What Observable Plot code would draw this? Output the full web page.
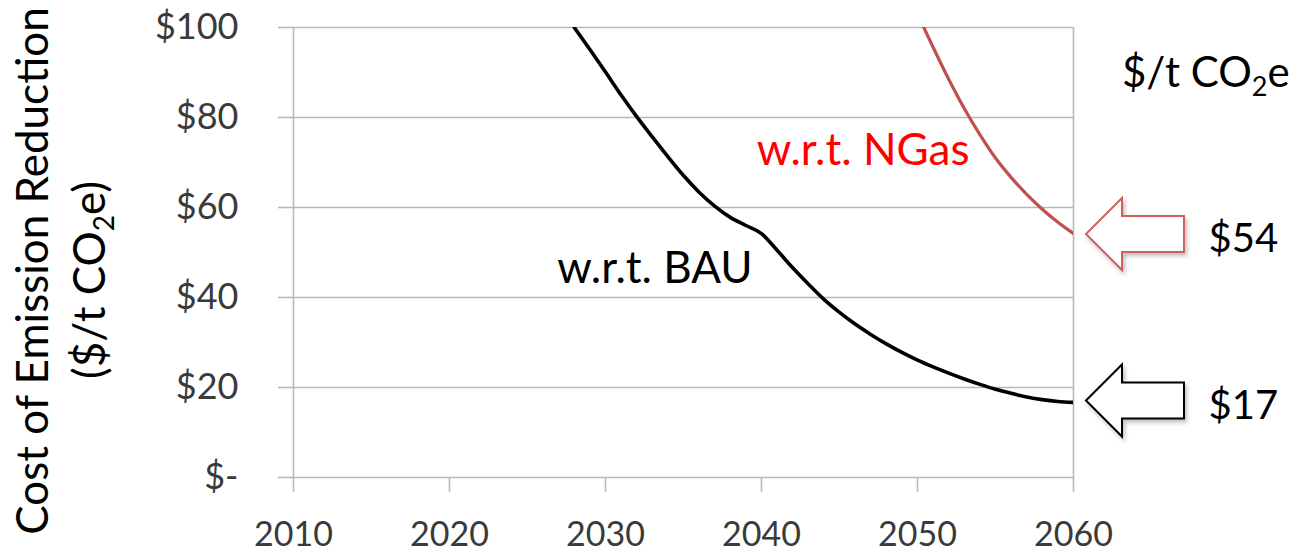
<!DOCTYPE html>
<html>
<head>
<meta charset="utf-8">
<script src="https://cdn.jsdelivr.net/npm/d3@7"></script>
<script src="https://cdn.jsdelivr.net/npm/@observablehq/plot@0.6"></script>
<style>
  html, body { margin: 0; padding: 0; background: #fff; }
  #chart svg { display: block; }
</style>
</head>
<body>
<div id="chart"></div>
<script>
// ---- data ----
const bauYears = [2028,2029,2030,2031,2032,2033,2034,2035,2036,2037,2038,2039,2040,2041,2042,2043,2044,2045,2046,2047,2048,2049,2050,2051,2052,2053,2054,2055,2056,2057,2058,2059,2060];
const bauValues = [100,95.1,90.1,85.0,80.2,75.7,71.3,67.1,63.4,60.3,57.8,56.0,54.2,50.5,46.6,43.0,39.6,36.7,34.1,31.8,29.7,27.8,26.1,24.6,23.2,21.9,20.7,19.6,18.7,17.9,17.3,16.9,16.7];
const ngasYears = [2050,2051,2052,2053,2054,2055,2056,2057,2058,2059,2060];
const ngasValues = [103,95.6,88.5,82.0,76.2,71.0,66.7,62.9,59.6,56.7,54.2];
const xTicks = [2010,2020,2030,2040,2050,2060];
const yTicks = [0,20,40,60,80,100];
const seriesLabels = [
  {year: 2026.9, value: 43.2, text: "w.r.t. BAU", color: "#000000"},
  {year: 2039.7, value: 69.5, text: "w.r.t. NGas", color: "#ff0000"}
];
const endValues = [
  {year: 2060, value: 54, text: "$54", color: "#d0605a"},
  {year: 2060, value: 17, text: "$17", color: "#000000"}
];

const bau = bauYears.map((y, i) => ({year: y, value: bauValues[i]}));
const ngas = ngasYears.map((y, i) => ({year: y, value: ngasValues[i]}));

const gridColor = "#b8b8b8";
const textColor = "#3a3a3a";

function arrowsMark(index, scales) {
  const g = d3.create("svg:g");
  const defs = g.append("defs");
  const f = defs.append("filter").attr("id", "arrowShadow").attr("x", "-20%").attr("y", "-20%").attr("width", "150%").attr("height", "150%");
  f.append("feDropShadow").attr("dx", 2).attr("dy", 3).attr("stdDeviation", 2).attr("flood-color", "#000").attr("flood-opacity", 0.25);
  for (const a of endValues) {
    const X = scales.x(a.year), Y = scales.y(a.value);
    const tip = X + 13, hb = X + 49, end = X + 111, hh = 36, sh = 18;
    const p = `M${tip},${Y} L${hb},${Y - hh} L${hb},${Y - sh} L${end},${Y - sh} L${end},${Y + sh} L${hb},${Y + sh} L${hb},${Y + hh} Z`;
    g.append("path").attr("d", p).attr("fill", "#fff").attr("stroke", a.color)
      .attr("stroke-width", 2).attr("stroke-linejoin", "miter").attr("filter", "url(#arrowShadow)");
  }
  return g.node();
}

const chart = Plot.plot({
  width: 1305,
  height: 552,
  marginLeft: 293,
  marginRight: 232,
  marginTop: 27,
  marginBottom: 75,
  style: {fontFamily: "Lato, 'Open Sans', sans-serif", background: "#fff", overflow: "visible"},
  x: {domain: [2010, 2060], label: null},
  y: {domain: [0, 100], label: null},
  marks: [
    Plot.gridY(yTicks, {stroke: gridColor, strokeOpacity: 1, strokeWidth: 1.6}),
    Plot.ruleX([2010, 2060], {stroke: gridColor, strokeWidth: 1.6}),
    Plot.axisY(yTicks, {tickSize: 15, tickPadding: 40, stroke: gridColor, strokeWidth: 1.6, fill: textColor,
      fontSize: 36, tickFormat: d => d === 0 ? "$-" : "$" + d, label: null}),
    Plot.axisX(xTicks, {tickSize: 15, tickPadding: 29, stroke: gridColor, strokeWidth: 1.6, fill: textColor,
      fontSize: 34, tickFormat: d => String(d), label: null}),
    Plot.line(ngas, {x: "year", y: "value", stroke: "#c0504d", strokeWidth: 3.2, curve: "monotone-x", clip: true}),
    Plot.line(bau, {x: "year", y: "value", stroke: "#000", strokeWidth: 3.6, curve: "monotone-x", clip: true}),
    Plot.text(seriesLabels, {x: "year", y: "value", text: "text", fill: "color", fontSize: 44,
      textAnchor: "start", lineAnchor: "bottom"}),
    arrowsMark,
    Plot.text(endValues, {x: "year", y: "value", text: "text", fill: "#000", fontSize: 40,
      textAnchor: "start", dx: 135, dy: 5})
  ]
});

// y-axis title and unit label (text with subscripts)
const svg = d3.select(chart);
const t1 = svg.append("text").attr("transform", "translate(48,271) rotate(-90)")
  .attr("text-anchor", "middle").attr("font-size", 44).attr("fill", "#000")
  .text("Cost of Emission Reduction");
const t2 = svg.append("text").attr("transform", "translate(105,280) rotate(-90)")
  .attr("text-anchor", "middle").attr("font-size", 44).attr("fill", "#000");
t2.append("tspan").text("($/t CO");
t2.append("tspan").attr("font-size", 28).attr("dy", 9).text("2");
t2.append("tspan").attr("dy", -9).text("e)");

const t3 = svg.append("text").attr("x", 1122).attr("y", 87)
  .attr("text-anchor", "start").attr("font-size", 42).attr("fill", "#000");
t3.append("tspan").text("$/t CO");
t3.append("tspan").attr("font-size", 27).attr("dy", 9).text("2");
t3.append("tspan").attr("dy", -9).text("e");

document.getElementById("chart").appendChild(chart);
</script>
</body>
</html>
